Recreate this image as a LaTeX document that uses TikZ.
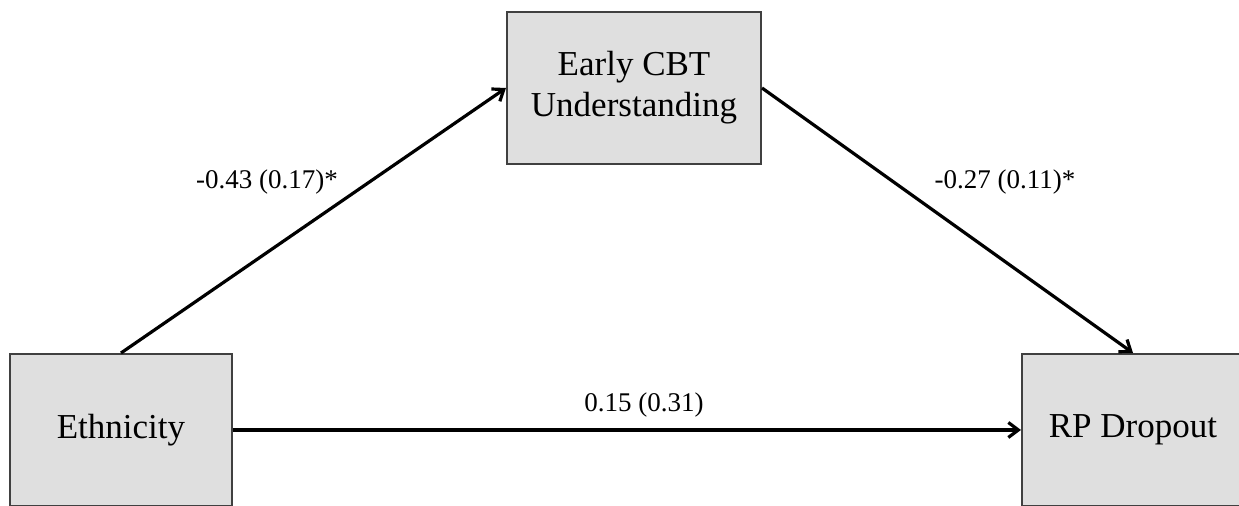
\documentclass[tikz,border=0pt]{standalone}
\usepackage{fontspec}
\setmainfont{Liberation Serif}
\usetikzlibrary{arrows.meta,positioning}

\begin{document}
\begin{tikzpicture}[
  x=0.5pt, y=-0.5pt,
  var/.style={
    rectangle, draw=black!75, fill=gray!25, line width=1pt,
    minimum width=111pt, minimum height=76pt, align=center,
    inner sep=0pt, font=\fontsize{17.5}{20.5}\selectfont
  },
  coef/.style={inner sep=0pt, font=\fontsize{13.5}{16}\selectfont},
  arr/.style={-{Straight Barb[length=5pt,width=7.5pt]}, line width=1.6pt},
]
  \clip (0,0) rectangle (1239,506);

  % Variables
  \node[var] (eth) at (121,430) {Ethnicity};
  \node[var, minimum width=127pt] (cbt) at (634,88) {Early CBT\\Understanding};
  \node[var] (drop) at (1133,430) {RP Dropout};

  % Paths
  \draw[arr] (eth.north) -- (cbt.west);
  \draw[arr] (cbt.east) -- (drop.north);
  \draw[arr] (eth.east) -- (drop.west);

  % Coefficients
  \node[coef] (a) at (267,182) {-0.43 (0.17)*};
  \node[coef] (b) at (1005,182) {-0.27 (0.11)*};
  \node[coef] (c) at (644,405) {0.15 (0.31)};
\end{tikzpicture}
\end{document}
